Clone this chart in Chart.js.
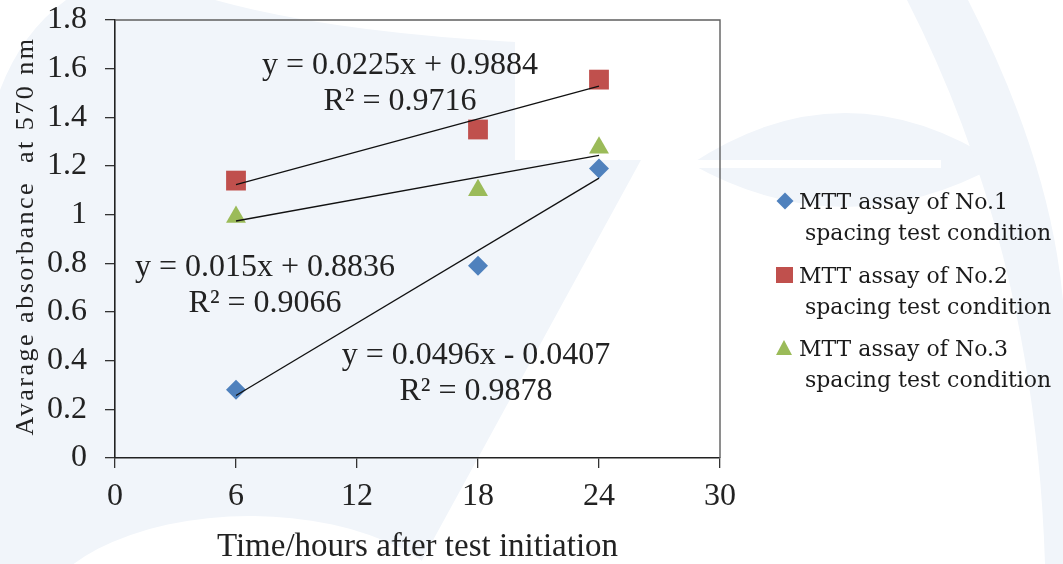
<!DOCTYPE html>
<html>
<head>
<meta charset="utf-8">
<script src="https://cdn.jsdelivr.net/npm/chart.js@4.4.0/dist/chart.umd.min.js"></script>
<style>
    html, body { margin: 0; padding: 0; background: #fff; }
    #wrap { position: relative; width: 1063px; height: 564px; overflow: hidden; }
    #bg { position: absolute; left: 0; top: 0; }
    #chartBox { position: absolute; left: 0; top: 0; width: 1063px; height: 564px; }
    #legend { position: absolute; left: 775px; top: 0; font-family: "DejaVu Serif", serif; font-size: 22px; color: #1a1a1a; }
    .item { position: absolute; left: 0; white-space: nowrap; line-height: 31px; }
    .item .l1 { position: absolute; left: 24px; top: 0; }
    .item .l2 { position: absolute; left: 30px; top: 31px; }
    .mk { position: absolute; }
    .mk.diamond { left: 4px; top: 9px; width: 12px; height: 12px; transform: rotate(45deg); }
    .mk.square { left: 1px; top: 7px; width: 17px; height: 16px; }
    .mk.triangle { left: 1px; top: 7px; width: 0; height: 0; border-left: 8.5px solid transparent; border-right: 8.5px solid transparent; }
</style>
</head>
<body>
<div id="wrap">
    <svg id="bg" width="1063" height="564">
        <path fill="#f1f5fa" d="M0,90 Q22,32 66,0 L215,0 Q330,32 515,42 L515,160 L641,160 L420,564 L0,564 Z"/>
        <ellipse cx="250" cy="628" rx="215" ry="112" fill="#fff"/>
        <path fill="#f1f5fa" d="M691,164 Q845,62 1000,164 Q845,250 691,164 Z"/>
        <rect x="691" y="160" width="250" height="8" fill="#fff"/>
        <path fill="#f1f5fa" d="M907,0 L968,0 Q1050,160 1063,300 L1063,564 L1045,564 Q1035,250 907,0 Z"/>
    </svg>
    <div id="chartBox"><canvas id="mttChart" width="1063" height="564"></canvas></div>
    <div id="legend"></div>
</div>
<script>
    // values
    const xTicks = [0, 6, 12, 18, 24, 30];
    const yTicks = [0, 0.2, 0.4, 0.6, 0.8, 1, 1.2, 1.4, 1.6, 1.8];
    const yTickLabels = ['0', '0.2', '0.4', '0.6', '0.8', '1', '1.2', '1.4', '1.6', '1.8'];
    const hours = [6, 18, 24];
    const no1 = [0.28, 0.79, 1.19];
    const no2 = [1.14, 1.35, 1.555];
    const no3 = [0.99, 1.10, 1.275];
    const seriesNames = [
        ['MTT assay of No.1', 'spacing test condition'],
        ['MTT assay of No.2', 'spacing test condition'],
        ['MTT assay of No.3', 'spacing test condition']
    ];
    // linear trendlines, ends at x = 6 and x = 24
    const trendX = [6, 24];
    const trend1 = [0.257, 1.150];
    const trend2 = [1.123, 1.528];
    const trend3 = [0.974, 1.244];
    const eq1 = ['y = 0.0496x - 0.0407', 'R\u00B2 = 0.9878'];
    const eq2 = ['y = 0.0225x + 0.9884', 'R\u00B2 = 0.9716'];
    const eq3 = ['y = 0.015x + 0.8836', 'R\u00B2 = 0.9066'];

    const colors = ['#4F81BD', '#C0504D', '#9BBB59'];
    const shapes = ['rectRot', 'rect', 'triangle'];
    const radii = [10, 14, 11.5];
    const serif = "'Liberation Serif', 'Times New Roman', serif";

    const pts = (xs, ys) => xs.map((x, i) => ({x: x, y: ys[i]}));

    const trendSet = (ys) => ({
        type: 'line',
        data: pts(trendX, ys),
        borderColor: '#111',
        borderWidth: 1.3,
        pointRadius: 0,
        fill: false
    });
    const markerSet = (ys, i) => ({
        label: seriesNames[i].join(' '),
        data: pts(hours, ys),
        showLine: false,
        pointStyle: shapes[i],
        pointRadius: radii[i],
        pointBackgroundColor: colors[i],
        pointBorderColor: colors[i],
        pointBorderWidth: 0,
        backgroundColor: colors[i],
        borderColor: colors[i]
    });

    // where the equation boxes sit, in axis units (centre of first line)
    const eqLabels = [
        {lines: eq2, x: 14.13, y: 1.612},
        {lines: eq3, x: 7.44, y: 0.782},
        {lines: eq1, x: 17.9, y: 0.420}
    ];

    const framePlugin = {
        id: 'frame',
        beforeDatasetsDraw(chart) {
            const {ctx, chartArea: a} = chart;
            ctx.save();
            ctx.strokeStyle = '#5f5f5f';
            ctx.lineWidth = 1.4;
            ctx.beginPath();
            ctx.moveTo(a.left, a.top);
            ctx.lineTo(a.right, a.top);
            ctx.lineTo(a.right, a.bottom);
            ctx.stroke();
            ctx.restore();
        },
        afterDraw(chart) {
            const {ctx, scales} = chart;
            ctx.save();
            ctx.fillStyle = '#222';
            ctx.textAlign = 'center';
            ctx.textBaseline = 'middle';
            ctx.font = '32px ' + serif;
            eqLabels.forEach(lb => {
                const px = scales.x.getPixelForValue(lb.x);
                const py = scales.y.getPixelForValue(lb.y);
                lb.lines.forEach((t, i) => ctx.fillText(t, px, py + i * 36));
            });
            // y axis title, spaced out like the original
            ctx.font = '26px ' + serif;
            ctx.letterSpacing = '2.5px';
            ctx.translate(26, 236);
            ctx.rotate(-Math.PI / 2);
            ctx.fillText('Avarage absorbance  at 570 nm', 0, 0);
            ctx.restore();
        }
    };

    const chart = new Chart(document.getElementById('mttChart').getContext('2d'), {
        type: 'scatter',
        data: {
            datasets: [
                trendSet(trend1), trendSet(trend2), trendSet(trend3),
                markerSet(no1, 0), markerSet(no2, 1), markerSet(no3, 2)
            ]
        },
        plugins: [framePlugin],
        options: {
            responsive: false,
            animation: false,
            layout: {padding: {left: 0, top: 20, right: 343, bottom: 0}},
            plugins: {legend: {display: false}, tooltip: {enabled: false}},
            scales: {
                x: {
                    type: 'linear',
                    min: 0,
                    max: 30,
                    afterBuildTicks: s => { s.ticks = xTicks.map(v => ({value: v})); },
                    afterFit: s => { s.height = 106; },
                    ticks: {
                        font: {family: serif, size: 32},
                        color: '#222',
                        padding: 9,
                        maxRotation: 0,
                        autoSkip: false,
                        callback: (v, i) => String(xTicks[i])
                    },
                    grid: {display: true, drawOnChartArea: false, drawTicks: true, tickLength: 10, color: '#333', lineWidth: 1.3},
                    border: {display: true, color: '#222', width: 1.6},
                    title: {
                        display: true,
                        text: 'Time/hours after test initiation',
                        font: {family: serif, size: 33, lineHeight: 1},
                        color: '#222',
                        padding: {top: 0, bottom: 0}
                    }
                },
                y: {
                    type: 'linear',
                    min: 0,
                    max: 1.8,
                    afterBuildTicks: s => { s.ticks = yTicks.map(v => ({value: v})); },
                    afterFit: s => {
                        s.width = 115;
                        s.paddingTop = 0;
                        s.paddingBottom = 0;
                    },
                    ticks: {
                        font: {family: serif, size: 32},
                        color: '#222',
                        padding: 18,
                        autoSkip: false,
                        callback: (v, i) => yTickLabels[i]
                    },
                    grid: {display: true, drawOnChartArea: false, drawTicks: true, tickLength: 10, color: '#333', lineWidth: 1.3},
                    border: {display: true, color: '#222', width: 1.6}
                }
            }
        }
    });

    // html legend, two lines per entry like the original
    const legendBox = document.getElementById('legend');
    const mkClass = ['diamond', 'square', 'triangle'];
    seriesNames.forEach((name, i) => {
        const item = document.createElement('div');
        item.className = 'item';
        item.style.top = (186 + i * 73.6) + 'px';
        const mk = document.createElement('div');
        mk.className = 'mk ' + mkClass[i];
        if (mkClass[i] === 'triangle') {
            mk.style.borderBottom = '15px solid ' + colors[i];
        } else {
            mk.style.background = colors[i];
        }
        const l1 = document.createElement('span');
        l1.className = 'l1';
        l1.textContent = name[0];
        const l2 = document.createElement('span');
        l2.className = 'l2';
        l2.textContent = name[1];
        item.appendChild(mk);
        item.appendChild(l1);
        item.appendChild(l2);
        legendBox.appendChild(item);
    });
</script>
</body>
</html>
